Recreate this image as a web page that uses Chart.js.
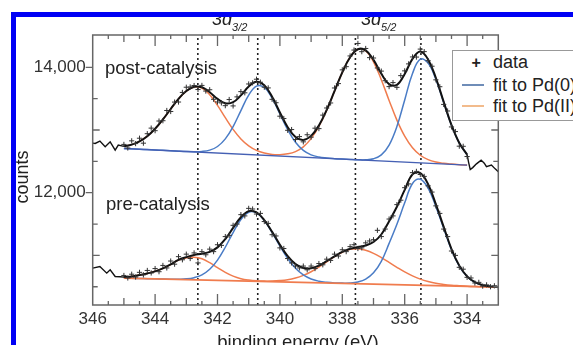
<!DOCTYPE html>
<html>
<head>
<meta charset="utf-8">
<script src="https://cdn.jsdelivr.net/npm/chart.js@4.4.0/dist/chart.umd.min.js"></script>
<style>
  html, body { margin:0; padding:0; overflow:hidden; }
  body { width:573px; height:345px; background:#fff; position:relative;
         font-family:"Liberation Sans", Arial, sans-serif; color:#222; }
  #wrap { position:absolute; left:0; top:0; width:573px; height:345px; overflow:hidden; }
  #plot { position:absolute; left:0; top:0; }
  .lbl { position:absolute; white-space:nowrap; line-height:1; }
  .pk i { font-style:italic; }
  .pk sub { font-size:11px; vertical-align:baseline; position:relative; top:6px; font-style:italic; }
  #legend { position:absolute; left:452px; top:50px; width:125px; height:69px; background:#fff;
            border:1.3px solid #999; z-index:3; }
  .swatch { position:absolute; height:1.6px; width:22px; z-index:4; }
  .bar { position:absolute; background:#0000f5; z-index:6; }
</style>
</head>
<body>
<div id="wrap">
<canvas id="plot" width="573" height="345"></canvas>

<div class="lbl" style="left:105px;top:58.5px;font-size:18.5px">post-catalysis</div>
<div class="lbl" style="left:106px;top:195px;font-size:18.5px">pre-catalysis</div>
<div class="lbl pk" style="left:212px;top:10px;font-size:18px"><i>3d</i><sub>3/2</sub></div>
<div class="lbl pk" style="left:361px;top:10px;font-size:18px"><i>3d</i><sub>5/2</sub></div>
<div class="lbl" style="left:21.8px;top:176.7px;font-size:18px;transform:translate(-50%,-50%) rotate(-90deg)">counts</div>
<div class="lbl" style="left:298px;top:333px;font-size:18.5px;transform:translateX(-50%)">binding energy (eV)</div>

<div id="legend"></div>
<div class="lbl" style="left:471.5px;top:54.5px;font-size:16px;font-weight:bold;z-index:4">+</div>
<div class="lbl" style="left:493px;top:53px;font-size:18px;z-index:4">data</div>
<div class="swatch" style="left:461.5px;top:84.2px;background:#6f8db8"></div>
<div class="lbl" style="left:493px;top:75.5px;font-size:18px;z-index:4">fit to Pd(0)</div>
<div class="swatch" style="left:461.5px;top:105.2px;background:#f2bb8c"></div>
<div class="lbl" style="left:493px;top:96.5px;font-size:18px;z-index:4">fit to Pd(II)</div>

<div class="bar" style="left:11px;top:12px;width:562px;height:4.5px"></div>
<div class="bar" style="left:11px;top:12px;width:4.5px;height:333px"></div>
</div>

<script>
// binding energy grid for the fitted curves (eV)
var energy = [345, 344.75, 344.5, 344.25, 344, 343.75, 343.5, 343.25, 343, 342.75, 342.5, 342.25,
  342, 341.75, 341.5, 341.25, 341, 340.75, 340.5, 340.25, 340, 339.75, 339.5, 339.25, 339, 338.75,
  338.5, 338.25, 338, 337.75, 337.5, 337.25, 337, 336.75, 336.5, 336.25, 336, 335.75, 335.5, 335.25,
  335, 334.75, 334.5, 334.25, 334, 333.75, 333.5, 333.25, 333];

// energies of the measured points (+)
var dataEnergy = [345, 344.875, 344.75, 344.625, 344.5, 344.375, 344.25, 344.125, 344, 343.875,
  343.75, 343.625, 343.5, 343.375, 343.25, 343.125, 343, 342.875, 342.75, 342.625,
  342.5, 342.375, 342.25, 342.125, 342, 341.875, 341.75, 341.625, 341.5, 341.375,
  341.25, 341.125, 341, 340.875, 340.75, 340.625, 340.5, 340.375, 340.25, 340.125,
  340, 339.875, 339.75, 339.625, 339.5, 339.375, 339.25, 339.125, 339, 338.875,
  338.75, 338.625, 338.5, 338.375, 338.25, 338.125, 338, 337.875, 337.75, 337.625,
  337.5, 337.375, 337.25, 337.125, 337, 336.875, 336.75, 336.625, 336.5, 336.375,
  336.25, 336.125, 336, 335.875, 335.75, 335.625, 335.5, 335.375, 335.25, 335.125,
  335, 334.875, 334.75, 334.625, 334.5, 334.375, 334.25, 334.125, 334, 333.875,
  333.75, 333.625, 333.5, 333.375, 333.25, 333.125, 333];

// post-catalysis
var postData = [12770, 12713, 12827, 12783, 12869, 12790, 12941, 13030, 12989, 13143,
  13148, 13311, 13295, 13445, 13446, 13599, 13682, 13686, 13709, 13645,
  13711, 13621, 13642, 13490, 13447, 13432, 13388, 13486, 13384, 13528,
  13612, 13593, 13734, 13752, 13810, 13762, 13683, 13671, 13489, 13435,
  13220, 13183, 12995, 13007, 12848, 12895, 12811, 12924, 12886, 13029,
  13022, 13237, 13351, 13431, 13670, 13740, 13959, 14010, 14181, 14275,
  14380, 14249, 14300, 14154, 14148, 13989, 13939, 13786, 13692, 13756,
  13680, 13867, 13943, 14054, 14165, 14163, 14290, 14250, 14105, 14017,
  13800, 13690, 13408, 13303, 13049, 12975, 12742, 12740, 12577];
var postFit = [12739, 12767, 12819, 12901, 13019, 13168, 13335, 13496, 13622, 13689, 13681, 13602,
  13497, 13428, 13444, 13552, 13694, 13770, 13713, 13529, 13280, 13045, 12888, 12841, 12906, 13072,
  13321, 13620, 13919, 14161, 14288, 14270, 14118, 13899, 13732, 13720, 13893, 14135, 14250, 14125,
  13829, 13448, 13079, 12792, 12607];
var postPd0 = [12705, 12699, 12693, 12687, 12681, 12675, 12669, 12663, 12658, 12655, 12658, 12679,
  12737, 12858, 13055, 13310, 13556, 13699, 13678, 13509, 13258, 13004, 12804, 12675, 12604, 12569,
  12553, 12543, 12536, 12530, 12525, 12525, 12542, 12603, 12760, 13056, 13479, 13901, 14129, 14068,
  13805, 13438, 13075, 12791, 12607];
var postPd2 = [12739, 12767, 12819, 12901, 13019, 13168, 13335, 13496, 13621, 13685, 13668, 13562,
  13393, 13197, 13010, 12857, 12747, 12674, 12632, 12611, 12607, 12620, 12656, 12732, 12862, 13057,
  13316, 13619, 13919, 14161, 14287, 14263, 14088, 13802, 13472, 13158, 12902, 12716, 12597, 12527,
  12488, 12468, 12456, 12447, 12440];
var postBgEnergy = [345, 334];
var postBg = [12705, 12440];
var postRawLeftEnergy = [346, 345.92, 345.77, 345.6, 345.44, 345.28, 345.18, 345];
var postRawLeft = [12790, 12786, 12823, 12732, 12812, 12680, 12760, 12739];
var postRawRightEnergy = [334, 333.95, 333.9, 333.82, 333.7, 333.55, 333.45, 333.38, 333.22, 333.1, 333];
var postRawRight = [12607, 12480, 12370, 12400, 12460, 12520, 12470, 12414, 12441, 12380, 12334];

// pre-catalysis
var preData = [10680, 10640, 10700, 10655, 10730, 10690, 10760, 10720, 10790, 10740,
  10840, 10800, 10910, 10860, 10980, 10930, 11020, 10950, 11040, 10880,
  11060, 11010, 11100, 11060, 11170, 11160, 11300, 11320, 11480, 11500,
  11650, 11630, 11750, 11740, 11660, 11670, 11540, 11510, 11330, 11310,
  11120, 11110, 10950, 10880, 10830, 10800, 10830, 10770, 10830, 10790,
  10870, 10850, 10940, 10920, 11020, 10990, 11090, 11060, 11140, 11170,
  11110, 11120, 11200, 11230, 11250, 11400, 11300, 11420, 11580, 11630,
  11810, 11880, 12080, 12140, 12320, 12340, 12290, 12260, 12110, 12010,
  11790, 11670, 11420, 11300, 11070, 11000, 10810, 10780, 10650, 10640,
  10560, 10570, 10510, 10530, 10500, 10515, 10490];
var preFit = [10654, 10665, 10686, 10712, 10746, 10793, 10856, 10930, 10972, 11005, 11027, 11057,
  11128, 11260, 11438, 11609, 11706, 11685, 11563, 11376, 11169, 10987, 10861, 10800, 10796, 10838,
  10908, 10984, 11055, 11105, 11134, 11158, 11213, 11333, 11545, 11775, 12044, 12293, 12312, 12134,
  11815, 11454, 11102, 10837, 10666, 10572, 10526, 10506, 10497];
var prePd0 = [10638, 10635, 10632, 10629, 10626, 10623, 10621, 10621, 10626, 10645, 10689, 10778,
  10925, 11130, 11365, 11573, 11689, 11677, 11557, 11366, 11149, 10950, 10794, 10688, 10623, 10588,
  10570, 10560, 10558, 10560, 10577, 10622, 10722, 10906, 11192, 11498, 11838, 12147, 12214, 12071,
  11778, 11432, 11090, 10830, 10663, 10571, 10526, 10506, 10497];
var prePd2 = [10654, 10665, 10686, 10712, 10746, 10793, 10855, 10926, 10960, 10971, 10946, 10884,
  10805, 10729, 10669, 10629, 10607, 10595, 10590, 10591, 10598, 10612, 10639, 10681, 10739, 10813,
  10898, 10981, 11051, 11096, 11105, 11081, 11033, 10966, 10889, 10810, 10736, 10673, 10622, 10584,
  10555, 10537, 10524, 10516, 10509, 10504, 10500, 10497, 10494];
var preBgEnergy = [345, 333];
var preBg = [10638, 10494];
var preRawLeftEnergy = [346, 345.77, 345.55, 345.44, 345.28, 345.12, 345];
var preRawLeft = [10797, 10823, 10717, 10770, 10664, 10660, 10654];

// dotted reference lines and axes
var peakEnergy = [342.63, 340.71, 337.58, 335.48];
var xTicks = [346, 344, 342, 340, 338, 336, 334];
var yTicks = [12000, 14000];
var xMin = 333, xMax = 346;
var yMin = 10209, yMax = 14515;

var BLUE = '#4a7cc6', ORANGE = '#f07c4e', BLACK = '#111';
var FONT = '"Liberation Sans", Arial, sans-serif';

function pts(xs, ys) {
    return ys.map(function(y, i) { return {x: xs[i], y: y}; });
}
function curve(xs, ys, color, width, tension) {
    return {data: pts(xs, ys), showLine: true, borderColor: color, borderWidth: width,
            pointRadius: 0, tension: tension, fill: false};
}
function marks(xs, ys) {
    return {data: pts(xs, ys), showLine: false, pointStyle: 'cross', pointRadius: 2.6,
            pointBorderWidth: 1, borderColor: '#333', backgroundColor: '#333'};
}

var datasets = [
    marks(dataEnergy, postData),
    marks(dataEnergy, preData),
    curve(energy, postFit, BLACK, 2, 0.4),
    curve(energy, preFit, BLACK, 2, 0.4),
    curve(postRawLeftEnergy, postRawLeft, BLACK, 1.4, 0),
    curve(postRawRightEnergy, postRawRight, BLACK, 1.4, 0),
    curve(preRawLeftEnergy, preRawLeft, BLACK, 1.4, 0),
    curve(postBgEnergy, postBg, '#4560b4', 1.4, 0),
    curve(preBgEnergy, preBg, ORANGE, 1.6, 0),
    curve(energy, postPd0, BLUE, 1.5, 0.4),
    curve(energy, postPd2, ORANGE, 1.5, 0.4),
    curve(energy, prePd0, BLUE, 1.5, 0.4),
    curve(energy, prePd2, ORANGE, 1.5, 0.4)
];
peakEnergy.forEach(function(e) {
    var d = curve([e, e], [yMin, yMax], '#222', 1.6, 0);
    d.borderDash = [2, 3];
    datasets.push(d);
});

// frame plus inward / outward tick marks
var frameAndTicks = {
    id: 'frameAndTicks',
    afterDatasetsDraw: function(chart) {
        var ctx = chart.ctx, a = chart.chartArea, x = chart.scales.x, y = chart.scales.y;
        ctx.save();
        ctx.strokeStyle = '#666';
        ctx.lineWidth = 1.3;
        ctx.beginPath();
        for (var v = 345.5; v > 333; v -= 0.5) {
            var px = x.getPixelForValue(v);
            var len = v % 2 === 0 ? 11 : (v % 1 === 0 ? 7 : 4);
            ctx.moveTo(px, a.bottom); ctx.lineTo(px, a.bottom - len);
            ctx.moveTo(px, a.top); ctx.lineTo(px, a.top + len);
        }
        for (var w = 10500; w <= 14000; w += 500) {
            var py = y.getPixelForValue(w);
            if (w % 2000 === 0) {
                ctx.moveTo(a.left - 7, py); ctx.lineTo(a.left, py);
            } else {
                ctx.moveTo(a.left, py); ctx.lineTo(a.left + (w % 1000 === 0 ? 7 : 5), py);
            }
            ctx.moveTo(a.right, py); ctx.lineTo(a.right - (w % 1000 === 0 ? 7 : 5), py);
        }
        ctx.stroke();
        ctx.lineWidth = 1.5;
        ctx.strokeRect(a.left, a.top, a.right - a.left, a.bottom - a.top);
        ctx.restore();
    }
};

new Chart(document.getElementById('plot'), {
    type: 'scatter',
    data: {datasets: datasets},
    plugins: [frameAndTicks],
    options: {
        responsive: false,
        animation: false,
        layout: {padding: {left: 0, top: 35, right: 74.7, bottom: 0}},
        plugins: {legend: {display: false}, tooltip: {enabled: false}},
        scales: {
            x: {
                type: 'linear', reverse: true, min: xMin, max: xMax,
                afterBuildTicks: function(s) { s.ticks = xTicks.map(function(v) { return {value: v}; }); },
                afterFit: function(s) { s.height = 40; },
                grid: {display: false, drawTicks: false},
                border: {display: false},
                ticks: {color: '#333', padding: 4, maxRotation: 0, autoSkip: false,
                        font: {family: FONT, size: 17}}
            },
            y: {
                type: 'linear', min: yMin, max: yMax,
                afterBuildTicks: function(s) { s.ticks = yTicks.map(function(v) { return {value: v}; }); },
                afterFit: function(s) { s.width = 92.7; },
                grid: {display: false, drawTicks: false},
                border: {display: false},
                ticks: {color: '#333', padding: 7, font: {family: FONT, size: 17},
                        callback: function(v) { return v.toLocaleString('en-US'); }}
            }
        }
    }
});
</script>
</body>
</html>
